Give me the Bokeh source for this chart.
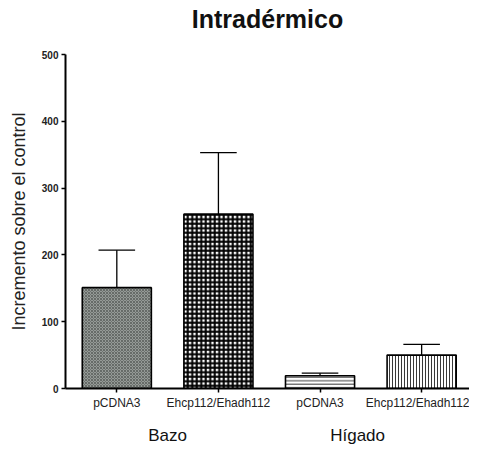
from bokeh.plotting import figure
from bokeh.models import ColumnDataSource, Range1d, FixedTicker, LinearAxis
from bokeh.embed import file_html
from bokeh.resources import INLINE

# ---- data ----
title_text = "Intradérmico"
groups = ["Bazo", "Hígado"]
group_pos = [1.5, 3.37]
labels = ["pCDNA3", "Ehcp112/Ehadh112", "pCDNA3", "Ehcp112/Ehadh112"]
positions = [1, 2, 3, 4]
means = [151, 261, 19, 50]
errors = [56, 92, 4, 16]
y_ticks = [0, 100, 200, 300, 400, 500]

# ---- styles ----
fills = ["#959a97", "white", "white", "white"]
hatches = ["diagonal_cross", "cross", "horizontal_line", "vertical_line"]
hatch_colors = ["#5a5f5c", "black", "#3a3a3a", "#3a3a3a"]
hatch_scales = [3, 4.5, 3.5, 3]
hatch_weights = [0.8, 2.0, 1.0, 1.0]
bar_width = 0.68
cap_half = 0.18
x_start, x_end = 0.495, 4.471
title_pos = (x_start + x_end) / 2

FONT = "Liberation Sans"

p = figure(width=469, height=447, output_backend="svg", toolbar_location=None,
           x_range=Range1d(x_start, x_end), y_range=Range1d(0, 500),
           min_border_left=65, min_border_right=0, min_border_top=54,
           min_border_bottom=59)

p.outline_line_color = None
p.xgrid.visible = False
p.ygrid.visible = False
p.background_fill_color = "white"
p.border_fill_color = "white"

src = ColumnDataSource(dict(x=positions, top=means, fill=fills, hatch=hatches,
                            hc=hatch_colors, hs=hatch_scales, hw=hatch_weights))
p.vbar(x="x", top="top", bottom=0, width=bar_width, source=src,
       fill_color="fill", line_color="black", line_width=1.6,
       hatch_pattern="hatch", hatch_color="hc", hatch_scale="hs", hatch_weight="hw")

tops = [m + e for m, e in zip(means, errors)]
p.segment(x0=positions, y0=means, x1=positions, y1=tops, line_color="black", line_width=1.3)
p.segment(x0=[x - cap_half for x in positions], y0=tops,
          x1=[x + cap_half for x in positions], y1=tops,
          line_color="black", line_width=1.3)

# y axis
ya = p.yaxis[0]
ya.ticker = FixedTicker(ticks=y_ticks)
ya.axis_label = "Incremento sobre el control"
ya.axis_label_text_font = FONT
ya.axis_label_text_font_size = "18px"
ya.axis_label_text_font_style = "normal"
ya.axis_label_text_color = "#222222"
ya.axis_label_standoff = 10
ya.major_label_text_font = FONT
ya.major_label_text_font_size = "10px"
ya.major_label_text_font_style = "bold"
ya.major_label_text_color = "#222222"
ya.major_label_standoff = 3
ya.major_tick_in = 0
ya.major_tick_out = 4
ya.minor_tick_line_color = None
ya.axis_line_width = 2
ya.major_tick_line_width = 1.5

# x axis (bar labels)
xa = p.xaxis[0]
xa.ticker = FixedTicker(ticks=positions)
xa.major_label_overrides = {pos: lab for pos, lab in zip(positions, labels)}
xa.major_label_text_font = FONT
xa.major_label_text_font_size = "12px"
xa.major_label_text_color = "#222222"
xa.major_label_standoff = 3
xa.major_tick_in = 0
xa.major_tick_out = 4
xa.minor_tick_line_color = None
xa.axis_line_width = 2
xa.major_tick_line_width = 1.5

# group axis
ga = LinearAxis(ticker=FixedTicker(ticks=group_pos),
                major_label_overrides={pos: g for pos, g in zip(group_pos, groups)})
ga.axis_line_color = None
ga.major_tick_line_color = None
ga.minor_tick_line_color = None
ga.major_label_text_font = FONT
ga.major_label_text_font_size = "17px"
ga.major_label_text_color = "#111111"
ga.major_label_standoff = 7
p.add_layout(ga, "below")

# title (as a label-only axis above the frame)
ta = LinearAxis(ticker=FixedTicker(ticks=[title_pos]),
                major_label_overrides={title_pos: title_text})
ta.axis_line_color = None
ta.major_tick_line_color = None
ta.minor_tick_line_color = None
ta.major_label_text_font = FONT
ta.major_label_text_font_size = "25px"
ta.major_label_text_font_style = "bold"
ta.major_label_text_color = "#111111"
ta.major_label_standoff = 16
p.add_layout(ta, "above")

open("out.html", "w").write(file_html(p, INLINE))
